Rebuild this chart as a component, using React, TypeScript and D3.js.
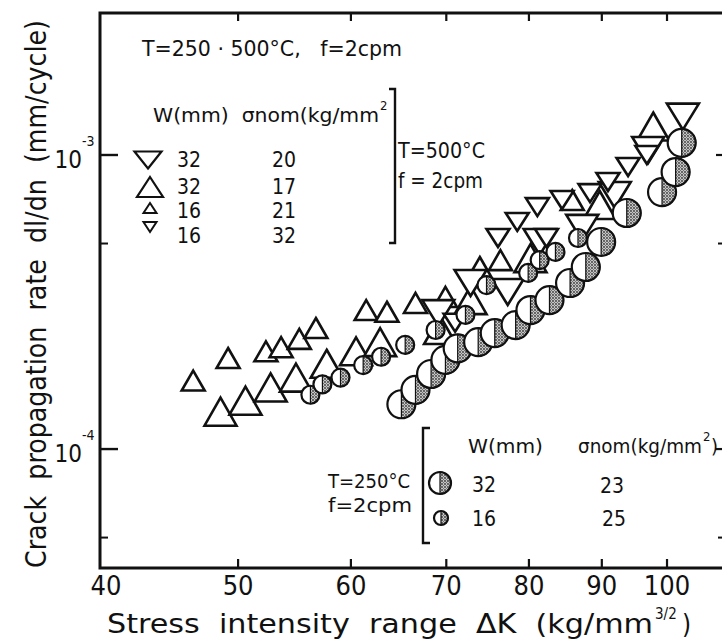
import React from "react";
import * as d3 from "d3";

// ---- data (ΔK in kg/mm^3/2, rate in mm/cycle) ----
// W=32, σnom=17 (large upright triangle)
const bigUpK = [48.6, 50.6, 52.7, 54.9, 57.7, 60.5, 62.9, 69.3, 72.8, 80.2, 89.7, 97.8];
const bigUpRate = [1.34e-4, 1.46e-4, 1.62e-4, 1.75e-4, 1.95e-4, 2.15e-4, 2.31e-4, 2.54e-4, 3.21e-4, 4.46e-4, 6.76e-4, 1.25e-3];
// W=32, σnom=20 (large inverted triangle)
const bigDownK = [69.1, 72.8, 77.3, 81.4, 87.2, 91.9, 97.0, 102.6];
const bigDownRate = [2.9e-4, 3.67e-4, 3.42e-4, 5.06e-4, 5.65e-4, 7.31e-4, 1.04e-3, 1.35e-3];
// W=16, σnom=21 (small upright triangle)
const smallUpK = [46.5, 49.2, 52.3, 53.6, 55.2, 56.7, 61.5, 63.6, 66.6, 69.9, 73.9, 76.4, 85.8];
const smallUpRate = [1.71e-4, 2.04e-4, 2.15e-4, 2.22e-4, 2.37e-4, 2.58e-4, 2.97e-4, 2.93e-4, 3.14e-4, 3.29e-4, 4.16e-4, 4.39e-4, 7.03e-4];
// W=16, σnom=32 (small inverted triangle)
const smallDownK = [71.0, 76.1, 78.5, 81.1, 82.3, 84.4, 88.3, 90.9, 93.9, 96.8];
const smallDownRate = [2.69e-4, 5.22e-4, 5.92e-4, 6.65e-4, 5.22e-4, 7.03e-4, 7.42e-4, 8.09e-4, 9.1e-4, 1.0e-3];
// T=250°C, W=32, σnom=23 (large half-shaded circle)
const bigCircK = [65.1, 66.6, 68.3, 69.9, 71.3, 73.7, 75.7, 78.3, 80.2, 82.7, 85.5, 87.7, 89.9, 93.7, 99.2, 101.4, 102.4];
const bigCircRate = [1.42e-4, 1.59e-4, 1.8e-4, 2.01e-4, 2.2e-4, 2.31e-4, 2.48e-4, 2.64e-4, 2.97e-4, 3.21e-4, 3.67e-4, 4.16e-4, 5.06e-4, 6.35e-4, 7.48e-4, 8.75e-4, 1.1e-3];
// T=250°C, W=16, σnom=25 (small half-shaded circle)
const smallCircK = [56.2, 57.3, 59.0, 61.2, 63.0, 65.5, 68.8, 72.2, 74.7, 79.9, 81.4, 83.5, 86.6];
const smallCircRate = [1.53e-4, 1.66e-4, 1.75e-4, 1.93e-4, 2.06e-4, 2.26e-4, 2.54e-4, 2.86e-4, 3.61e-4, 3.97e-4, 4.39e-4, 4.68e-4, 5.22e-4];

const xTicks = [40, 50, 60, 70, 80, 90, 100];
const xTickLabels = ["40", "50", "60", "70", "80", "90", "100"];
const yMajor = [1e-3, 1e-4];
const yMajorExp = ["-3", "-4"];
const yMinor = [5e-4, 5e-5];

const FONT = "'DejaVu Sans Condensed', 'DejaVu Sans', sans-serif";

const W = 722, H = 641;
const left = 100, right = 726, top = 13, bottom = 568;

const x = d3.scaleLog().domain([40, 110]).range([left, right]);
const y = d3.scaleLog().domain([3.94e-5, 3.04e-3]).range([bottom, top]);

function tri(cx: number, cy: number, w: number, h: number, up: boolean) {
  const s = up ? 1 : -1;
  return `${cx},${cy - (s * h) / 2} ${cx + w / 2},${cy + (s * h) / 2} ${cx - w / 2},${cy + (s * h) / 2}`;
}

function HalfCircle({ cx, cy, r }: { cx: number; cy: number; r: number }) {
  return (
    <g>
      <circle cx={cx} cy={cy} r={r} fill="#fff" stroke="none" />
      <path d={`M${cx},${cy - r} A${r},${r} 0 0 1 ${cx},${cy + r} Z`} fill="url(#stip)" stroke="#111" strokeWidth={1.2} />
      <circle cx={cx} cy={cy} r={r} fill="none" stroke="#111" strokeWidth={2.2} />
    </g>
  );
}

const pre = { whiteSpace: "pre" as const };

export default function App() {
  const triStyle = { fill: "#fff", stroke: "#111", strokeWidth: 2.6, strokeLinejoin: "miter" as const };
  return (
    <svg width={W} height={H} style={{ position: "absolute", left: 0, top: 0, background: "#fff" }} fontFamily={FONT}>
      <defs>
        <pattern id="stip" width={3} height={3} patternUnits="userSpaceOnUse">
          <rect width={3} height={3} fill="#c4c4c4" />
          <circle cx={1} cy={1} r={0.9} fill="#3a3a3a" />
          <circle cx={2.5} cy={2.4} r={0.5} fill="#555" />
        </pattern>
      </defs>

      {/* frame */}
      <path d={`M${right},${top} L${left},${top} L${left},${bottom} L${right},${bottom}`} fill="none" stroke="#111" strokeWidth={3} />
      <line x1={right} y1={top} x2={right} y2={bottom} stroke="#111" strokeWidth={3} />

      {/* x ticks */}
      {xTicks.map((t, i) => (
        <g key={"xt" + i}>
          {i > 0 && <line x1={x(t)} x2={x(t)} y1={bottom} y2={bottom - 9} stroke="#111" strokeWidth={2.2} />}
          {i > 0 && <line x1={x(t)} x2={x(t)} y1={top} y2={top + 8} stroke="#111" strokeWidth={2.2} />}
          <text x={x(t) + (i === 0 ? 6 : 0)} y={595} fontSize={27} textAnchor="middle" fill="#111">{xTickLabels[i]}</text>
        </g>
      ))}

      {/* y ticks */}
      {yMajor.map((t, i) => (
        <g key={"ym" + i}>
          <line x1={left} x2={left + 18} y1={y(t)} y2={y(t)} stroke="#111" strokeWidth={2.4} />
          <line x1={right} x2={right - 10} y1={y(t)} y2={y(t)} stroke="#111" strokeWidth={2.2} />
          <text x={82} y={y(t) + 13} fontSize={24} textAnchor="end" fill="#111">10</text>
          <text x={82} y={y(t) - 9} fontSize={14} fill="#111">{yMajorExp[i]}</text>
        </g>
      ))}
      {yMinor.map((t, i) => (
        <g key={"yn" + i}>
          <line x1={left} x2={left + 8} y1={y(t)} y2={y(t)} stroke="#111" strokeWidth={2} />
          <line x1={right} x2={right - 8} y1={y(t)} y2={y(t)} stroke="#111" strokeWidth={2} />
        </g>
      ))}

      {/* axis titles */}
      <text x={107} y={633} fontSize={26} fill="#111" style={pre} textLength={546} lengthAdjust="spacingAndGlyphs">Stress  intensity  range  ΔK  (kg/mm</text>
      <text x={655} y={619} fontSize={15} fill="#111">3/2</text>
      <text x={682} y={633} fontSize={26} fill="#111">)</text>
      <text transform="translate(46,568) rotate(-90)" x={0} y={0} fontSize={29} fill="#111" style={pre} textLength={548} lengthAdjust="spacingAndGlyphs">Crack  propagation  rate  dl/dn  (mm/cycle)</text>

      {/* data: triangles */}
      {bigUpK.map((k, i) => (
        <polygon key={"a" + i} points={tri(x(k), y(bigUpRate[i]), 32, 28, true)} {...triStyle} />
      ))}
      {smallUpK.map((k, i) => (
        <polygon key={"c" + i} points={tri(x(k), y(smallUpRate[i]), 23, 20, true)} {...triStyle} />
      ))}
      {bigDownK.map((k, i) => (
        <polygon key={"b" + i} points={tri(x(k), y(bigDownRate[i]), 32, 26, false)} {...triStyle} />
      ))}
      {smallDownK.map((k, i) => (
        <polygon key={"d" + i} points={tri(x(k), y(smallDownRate[i]), 23, 18, false)} {...triStyle} />
      ))}
      {/* data: circles */}
      {bigCircK.map((k, i) => (
        <HalfCircle key={"e" + i} cx={x(k)} cy={y(bigCircRate[i])} r={14} />
      ))}
      {smallCircK.map((k, i) => (
        <HalfCircle key={"f" + i} cx={x(k)} cy={y(smallCircRate[i])} r={9} />
      ))}

      {/* upper legend */}
      <text x={142} y={56} fontSize={21} fill="#111" style={pre} textLength={260} lengthAdjust="spacingAndGlyphs">T=250 · 500°C,   f=2cpm</text>
      <text x={153} y={122} fontSize={20} fill="#111" style={pre} textLength={226} lengthAdjust="spacingAndGlyphs">W(mm)  σnom(kg/mm</text>
      <text x={380} y={110} fontSize={13} fill="#111">2</text>
      <path d="M389,89 L395,89 L395,243 L389,243" fill="none" stroke="#111" strokeWidth={2.4} />
      <text x={398} y={158} fontSize={21} fill="#111" textLength={87} lengthAdjust="spacingAndGlyphs">T=500°C</text>
      <text x={398} y={188} fontSize={21} fill="#111" style={pre} textLength={85} lengthAdjust="spacingAndGlyphs">f = 2cpm</text>

      <polygon points={tri(148, 160, 27, 17, false)} {...triStyle} strokeWidth={2.2} />
      <polygon points={tri(150, 187, 26, 20, true)} {...triStyle} strokeWidth={2.2} />
      <polygon points={tri(150, 208, 13, 10, true)} {...triStyle} strokeWidth={2} />
      <polygon points={tri(150, 227, 13, 10, false)} {...triStyle} strokeWidth={2} />
      {[["32", "20", 167], ["32", "17", 194], ["16", "21", 218], ["16", "32", 243]].map((r, i) => (
        <g key={"lg" + i}>
          <text x={177} y={r[2] as number} fontSize={21} fill="#111">{r[0]}</text>
          <text x={272} y={r[2] as number} fontSize={21} fill="#111">{r[1]}</text>
        </g>
      ))}

      {/* lower legend */}
      <path d="M430,428 L423,428 L423,543 L430,543" fill="none" stroke="#111" strokeWidth={2.4} />
      <text x={328} y={488} fontSize={20} fill="#111" textLength={82} lengthAdjust="spacingAndGlyphs">T=250°C</text>
      <text x={328} y={512} fontSize={20} fill="#111" textLength={84} lengthAdjust="spacingAndGlyphs">f=2cpm</text>
      <text x={468} y={453} fontSize={20} fill="#111" textLength={75} lengthAdjust="spacingAndGlyphs">W(mm)</text>
      <text x={578} y={453} fontSize={20} fill="#111" textLength={124} lengthAdjust="spacingAndGlyphs">σnom(kg/mm</text>
      <text x={703} y={441} fontSize={13} fill="#111">2</text>
      <text x={711} y={453} fontSize={20} fill="#111">)</text>
      <HalfCircle cx={440} cy={483} r={11} />
      <HalfCircle cx={441} cy={518} r={7} />
      <text x={472} y={492} fontSize={21} fill="#111">32</text>
      <text x={600} y={493} fontSize={21} fill="#111">23</text>
      <text x={472} y={526} fontSize={21} fill="#111">16</text>
      <text x={602} y={526} fontSize={21} fill="#111">25</text>
    </svg>
  );
}
